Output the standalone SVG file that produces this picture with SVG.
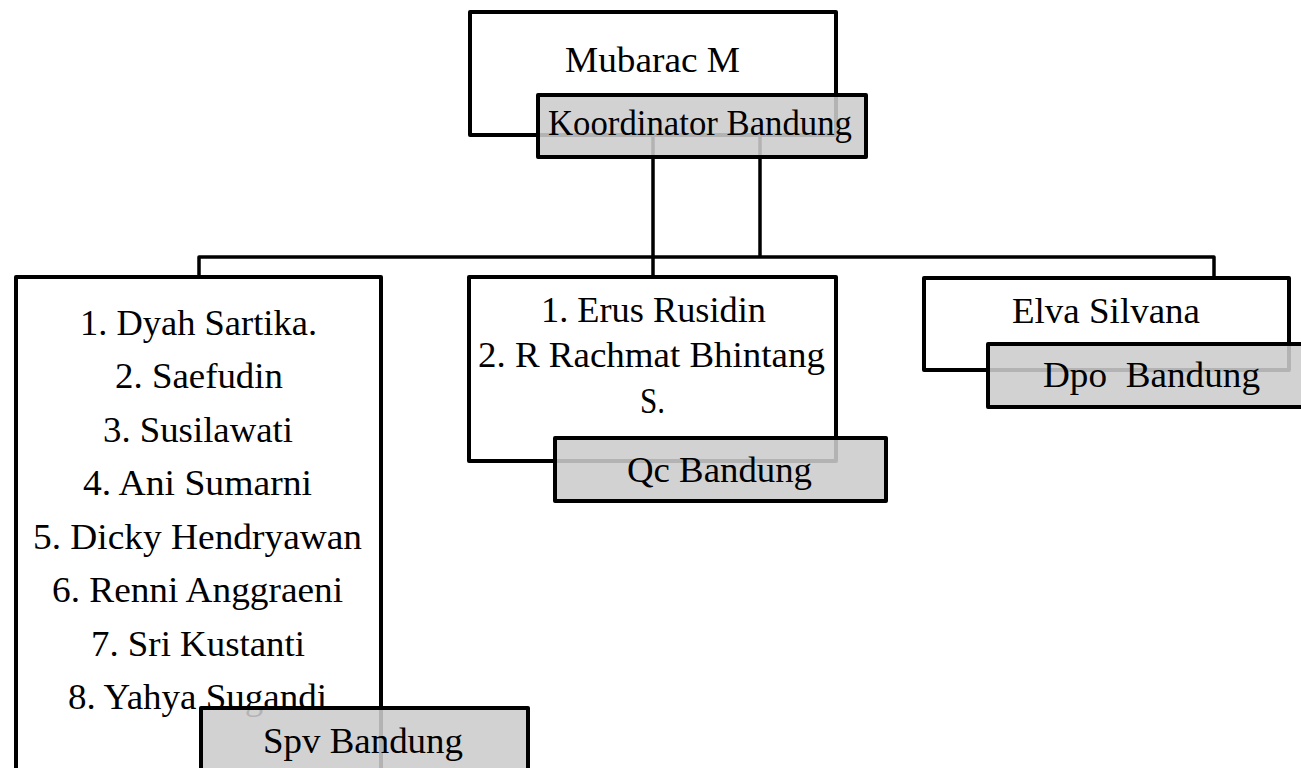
<svg xmlns="http://www.w3.org/2000/svg" width="1301" height="768" viewBox="0 0 1301 768" font-family="Liberation Serif, Times New Roman, serif" font-size="36">
<style>
.box{fill:#ffffff;stroke:#000000;stroke-width:4;stroke-linejoin:round}
.tag{fill:#cccccc;fill-opacity:0.88;stroke:#000000;stroke-width:4;stroke-linejoin:round}
.conn{fill:none;stroke:#000000;stroke-width:3.5;stroke-linejoin:round}
</style>
<rect width="1301" height="768" fill="#ffffff"/>
<g id="node-koordinator-box">
<rect class="box" x="470" y="12" width="366" height="123"/>
<text x="565" y="72" textLength="175" lengthAdjust="spacingAndGlyphs">Mubarac M</text>
</g>
<g id="node-spv-box">
<rect class="box" x="16" y="277" width="365" height="500"/>
<text x="80" y="335" textLength="237" lengthAdjust="spacingAndGlyphs">1. Dyah Sartika.</text>
<text x="115" y="388" textLength="168" lengthAdjust="spacingAndGlyphs">2. Saefudin</text>
<text x="103" y="442" textLength="190" lengthAdjust="spacingAndGlyphs">3. Susilawati</text>
<text x="83" y="495" textLength="229" lengthAdjust="spacingAndGlyphs">4. Ani Sumarni</text>
<text x="33" y="549" textLength="329" lengthAdjust="spacingAndGlyphs">5. Dicky Hendryawan</text>
<text x="52" y="602" textLength="291" lengthAdjust="spacingAndGlyphs">6. Renni Anggraeni</text>
<text x="91" y="656" textLength="214" lengthAdjust="spacingAndGlyphs">7. Sri Kustanti</text>
<text x="68" y="709" textLength="259" lengthAdjust="spacingAndGlyphs">8. Yahya Sugandi</text>
</g>
<g id="node-qc-box">
<rect class="box" x="469" y="277" width="367" height="184"/>
<text x="541" y="322" textLength="225" lengthAdjust="spacingAndGlyphs">1. Erus Rusidin</text>
<text x="478" y="367" textLength="347" lengthAdjust="spacingAndGlyphs">2. R Rachmat Bhintang</text>
<text x="640" y="413" textLength="25" lengthAdjust="spacingAndGlyphs">S.</text>
</g>
<g id="node-dpo-box">
<rect class="box" x="924" y="278" width="365" height="92"/>
<text x="1012" y="323" textLength="188" lengthAdjust="spacingAndGlyphs">Elva Silvana</text>
</g>
<g id="connectors">
<path class="conn" d="M653,135 V277"/>
<path class="conn" d="M760,135 V257"/>
<path class="conn" d="M199,277 V257 H1214 V278"/>
</g>
<g id="node-koordinator-label">
<rect class="tag" x="538" y="95" width="328" height="62"/>
<text x="548" y="135" textLength="304" lengthAdjust="spacingAndGlyphs">Koordinator Bandung</text>
</g>
<g id="node-qc-label">
<rect class="tag" x="555" y="438" width="331" height="63"/>
<text x="627" y="482" textLength="185" lengthAdjust="spacingAndGlyphs">Qc Bandung</text>
</g>
<g id="node-dpo-label">
<rect class="tag" x="988" y="344" width="320" height="63"/>
<text x="1043" y="387" textLength="217" lengthAdjust="spacingAndGlyphs">Dpo &#160;Bandung</text>
</g>
<g id="node-spv-label">
<rect class="tag" x="201" y="708" width="327" height="70"/>
<text x="263" y="753" textLength="200" lengthAdjust="spacingAndGlyphs">Spv Bandung</text>
</g>
</svg>
